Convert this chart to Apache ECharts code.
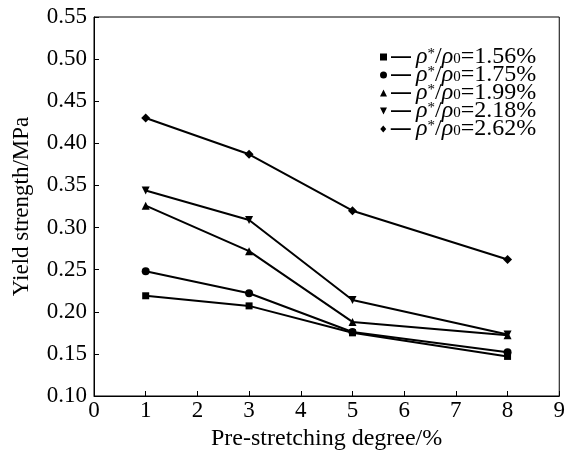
<!DOCTYPE html>
<html>
<head>
<meta charset="utf-8">
<script src="https://cdn.jsdelivr.net/npm/echarts@6/dist/echarts.min.js"></script>
<style>
  html, body { margin: 0; padding: 0; background: #fff; }
  #chart { width: 568px; height: 457px; }
</style>
</head>
<body>
<div id="chart"></div>
<script>
// Pre-stretching degree (%) at which yield strength was measured
const preStretch = [1, 3, 5, 8];

// Relative density labels (ρ*/ρ0)
const densityLabels = ['1.56%', '1.75%', '1.99%', '2.18%', '2.62%'];

// Yield strength (MPa) for each relative density
const ys156 = [0.219, 0.207, 0.175, 0.147];
const ys175 = [0.248, 0.222, 0.176, 0.152];
const ys199 = [0.326, 0.272, 0.188, 0.172];
const ys218 = [0.344, 0.309, 0.214, 0.173];
const ys262 = [0.430, 0.387, 0.320, 0.262];

// Axis tick values
const xTicks = [0, 1, 2, 3, 4, 5, 6, 7, 8, 9];
const yTicks = ['0.10', '0.15', '0.20', '0.25', '0.30', '0.35', '0.40', '0.45', '0.50', '0.55'];

const FONT = '"Liberation Serif", "Times New Roman", serif';

// Marker followed by a short dash, drawn in a 31x7 box
const DASH = 'M11,2.8 H31 V4.4 H11 Z';
const legendIcons = [
  'path://M0,0 H7 V7 H0 Z ' + DASH,
  'path://M0,3.5 A3.5,3.5 0 1 1 7,3.5 A3.5,3.5 0 1 1 0,3.5 Z ' + DASH,
  'path://M0,7 L3.5,0 L7,7 Z ' + DASH,
  'path://M0,0 L7,0 L3.5,7 Z ' + DASH,
  'path://M3.5,0 L6.5,3.5 L3.5,7 L0.5,3.5 Z ' + DASH
];

const seriesValues = [ys156, ys175, ys199, ys218, ys262];
const markers = [
  { symbol: 'rect', size: 7, rotate: 0 },
  { symbol: 'circle', size: 8, rotate: 0 },
  { symbol: 'triangle', size: 8, rotate: 0 },
  { symbol: 'triangle', size: 8, rotate: 180 },
  { symbol: 'diamond', size: 9, rotate: 0 }
];

const series = seriesValues.map((vals, i) => ({
  name: densityLabels[i],
  type: 'line',
  data: preStretch.map((x, j) => [x, vals[j]]),
  symbol: markers[i].symbol,
  symbolSize: markers[i].size,
  symbolRotate: markers[i].rotate,
  showAllSymbol: true,
  lineStyle: { color: '#000', width: 2 },
  itemStyle: { color: '#000' },
  z: 3 + i
}));

const chart = echarts.init(document.getElementById('chart'), null, { renderer: 'canvas' });
chart.setOption({
  animation: false,
  backgroundColor: '#fff',
  grid: {
    left: 94, right: 6, top: 17, bottom: 61,
    show: true, borderColor: '#000', borderWidth: 1
  },
  legend: {
    orient: 'vertical',
    left: 380,
    top: 45,
    padding: 0,
    itemGap: -6,
    itemWidth: 31,
    itemHeight: 7,
    data: densityLabels.map((n, i) => ({ name: n, icon: legendIcons[i] })),
    formatter: name => '{i|ρ}{sup|*}{n|/}{i|ρ}{sub|0}{n|=' + name + '}',
    textStyle: {
      fontFamily: FONT,
      fontSize: 24,
      color: '#000',
      lineHeight: 20,
      rich: {
        i: { fontFamily: FONT, fontSize: 24, fontStyle: 'italic', color: '#000', lineHeight: 20 },
        n: { fontFamily: FONT, fontSize: 24, color: '#000', lineHeight: 20 },
        sup: { fontFamily: FONT, fontSize: 15, color: '#000', lineHeight: 12, verticalAlign: 'top' },
        sub: { fontFamily: FONT, fontSize: 15, color: '#000', lineHeight: 4, verticalAlign: 'bottom' }
      }
    }
  },
  xAxis: {
    type: 'value',
    min: xTicks[0],
    max: xTicks[xTicks.length - 1],
    interval: 1,
    name: 'Pre-stretching degree/%',
    nameLocation: 'middle',
    nameGap: 29,
    nameTextStyle: { fontFamily: FONT, fontSize: 24, color: '#000' },
    axisLine: { show: true, lineStyle: { color: '#000', width: 1 } },
    axisTick: { show: true, inside: true, length: 5, lineStyle: { color: '#000' } },
    axisLabel: { fontFamily: FONT, fontSize: 23, color: '#000', margin: 3 },
    splitLine: { show: false }
  },
  yAxis: {
    type: 'value',
    min: 0.10,
    max: 0.55,
    interval: 0.05,
    name: 'Yield strength/MPa',
    nameLocation: 'middle',
    nameGap: 61,
    nameTextStyle: { fontFamily: FONT, fontSize: 23, color: '#000' },
    axisLine: { show: true, lineStyle: { color: '#000', width: 1 } },
    axisTick: { show: true, inside: true, length: 5, lineStyle: { color: '#000' } },
    axisLabel: {
      fontFamily: FONT, fontSize: 23, color: '#000', margin: 7,
      formatter: v => yTicks[Math.round((v - 0.10) / 0.05)]
    },
    splitLine: { show: false }
  },
  series: series
});
</script>
</body>
</html>
